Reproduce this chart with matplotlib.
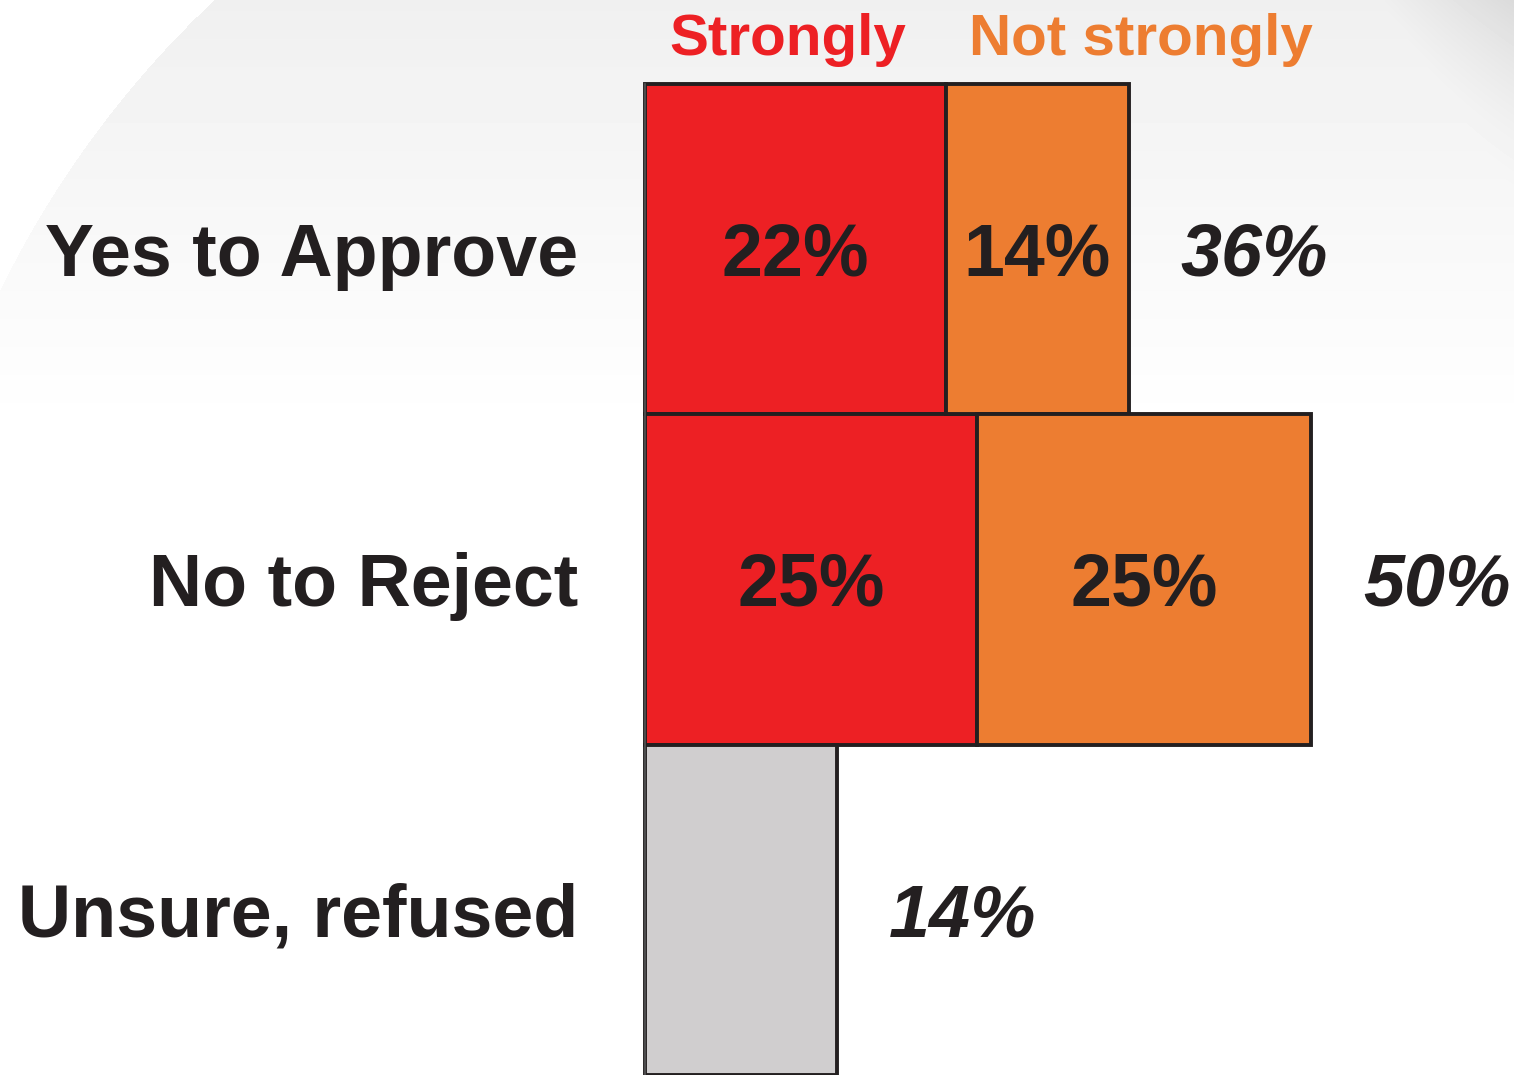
import numpy as np
import matplotlib
matplotlib.use("Agg")
import matplotlib.pyplot as plt
import matplotlib.transforms as mtransforms

plt.rcParams['font.family'] = ['Liberation Sans', 'DejaVu Sans']

# data (bar lengths in %)
categories = ["Yes to Approve", "No to Reject", "Unsure, refused"]
strongly = [22.6, 24.9]
not_strongly = [13.7, 25.1]
unsure = [14.4]
inner_labels_strong = ["22%", "25%"]
inner_labels_not = ["14%", "25%"]
total_labels = ["36%", "50%", "14%"]

RED = '#ED2024'
ORANGE = '#ED7D31'
GRAY = '#D0CECF'
INK = '#231F20'

W, H = 1514, 1075
fig = plt.figure(figsize=(W / 100, H / 100), dpi=100)

# faint background swoosh
bg = fig.add_axes([0, 0, 1, 1], zorder=-1)
yy, xx = np.mgrid[0:H, 0:W]
inside = ((xx - 900) ** 2 + (yy - 730) ** 2) < 1002 ** 2
fade = np.clip(1 - yy / 430.0, 0, 1)
shade = 0.06 * inside * fade
corner = np.clip((xx - 1380 - 0.7 * yy) / 160.0, 0, 1) * np.clip(1 - yy / 260.0, 0, 1)
shade = shade + 0.10 * corner
img = np.clip(1 - shade, 0, 1)
bg.imshow(img, cmap='gray', vmin=0, vmax=1, extent=[0, W, H, 0], aspect='auto')
bg.set_axis_off()

# main axes: left edge at bars' start, top at first bar's top
ax = fig.add_axes([645 / W, 0, (W - 645) / W, (H - 84) / H])
ax.patch.set_alpha(0)
ax.set_xlim(0, (W - 645) / 13.32)
ax.set_ylim(2.5, -0.5)

y = np.arange(len(categories))
edge = dict(edgecolor=INK, linewidth=2.8, height=1.0, clip_on=False)
ax.barh(y[:2], strongly, color=RED, **edge)
ax.barh(y[:2], not_strongly, left=strongly, color=ORANGE, **edge)
ax.barh(y[2:], unsure, color=GRAY, **edge)

fs = 53
base = mtransforms.offset_copy(ax.transData, fig=fig, y=-0.36 * fs, units='points')

for i in range(2):
    ax.text(strongly[i] / 2, i, inner_labels_strong[i], ha='center', va='baseline',
            fontsize=fs, fontweight='bold', color=INK, transform=base)
    ax.text(strongly[i] + not_strongly[i] / 2, i, inner_labels_not[i], ha='center',
            va='baseline', fontsize=fs, fontweight='bold', color=INK, transform=base)

totals = [strongly[0] + not_strongly[0], strongly[1] + not_strongly[1], unsure[0]]
for i, t in enumerate(totals):
    ax.text(t + 3.9, i, total_labels[i], ha='left', va='baseline', fontsize=fs,
            fontweight='bold', fontstyle='italic', color=INK, transform=base,
            clip_on=False)

for i, cat in enumerate(categories):
    ax.text(-5.0, i, cat, ha='right', va='baseline', fontsize=fs, fontweight='bold',
            color=INK, transform=base, clip_on=False)

# column headers
hdr = mtransforms.blended_transform_factory(ax.transData, ax.transAxes)
ax.text(10.7, 1.029, "Strongly", ha='center', va='baseline', fontsize=42,
        fontweight='bold', color=RED, transform=hdr, clip_on=False)
ax.text(37.2, 1.029, "Not strongly", ha='center', va='baseline', fontsize=42,
        fontweight='bold', color=ORANGE, transform=hdr, clip_on=False)

for s in ['top', 'right', 'bottom']:
    ax.spines[s].set_visible(False)
ax.spines['left'].set_color('#555555')
ax.spines['left'].set_linewidth(1.2)
ax.set_xticks([])
ax.set_yticks([])

fig.savefig('out.png', dpi=100)
